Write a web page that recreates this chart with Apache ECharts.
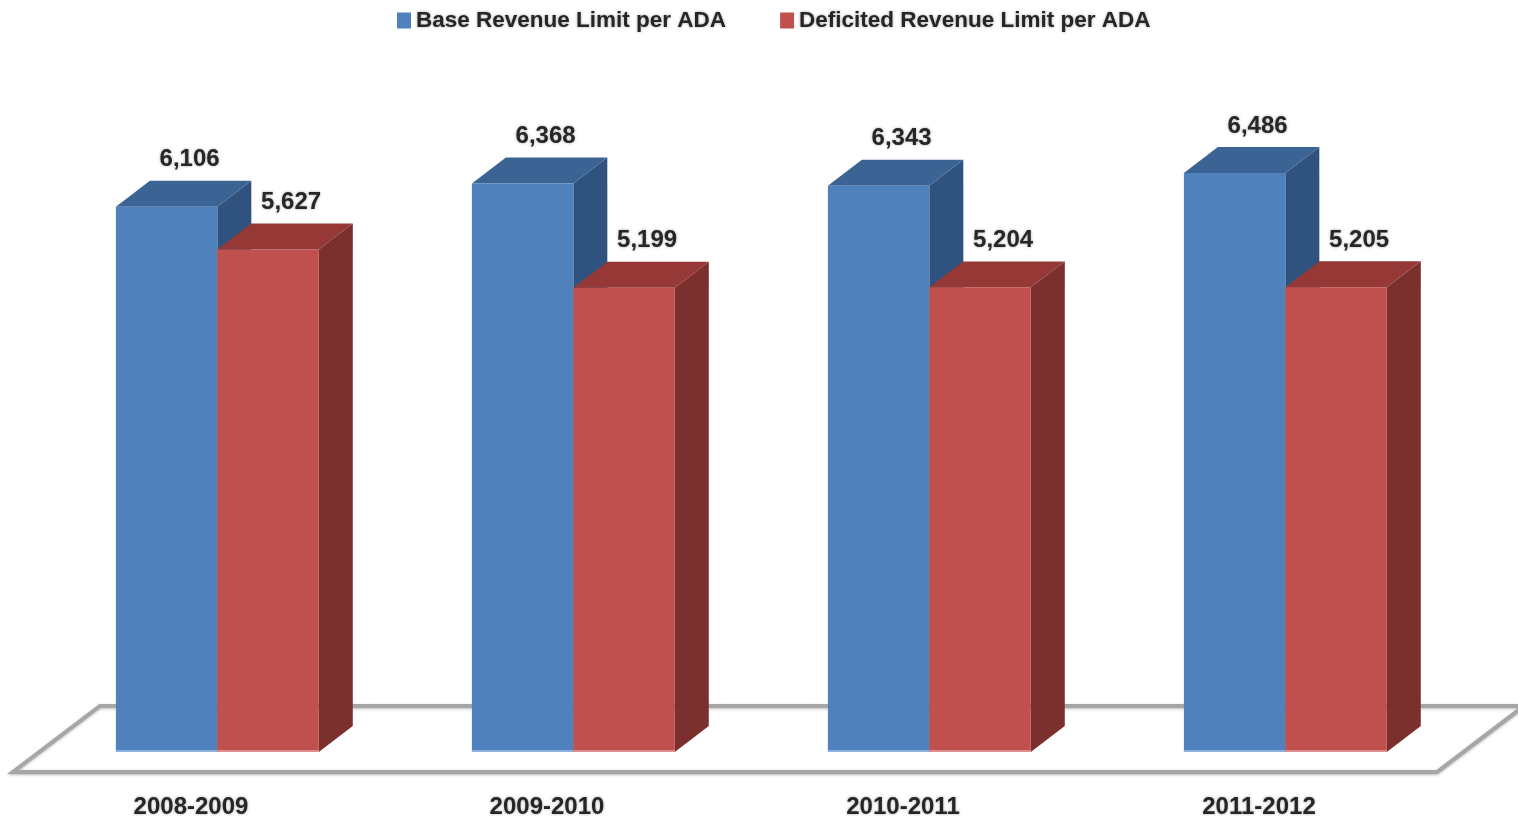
<!DOCTYPE html>
<html>
<head>
<meta charset="utf-8">
<script src="https://cdn.jsdelivr.net/npm/echarts@6/dist/echarts.min.js"></script>
<style>
  html, body { margin: 0; padding: 0; background: #ffffff; }
  #chart { width: 1518px; height: 821px; }
</style>
</head>
<body>
<div id="chart"></div>
<script>
// Revenue limit per ADA by school year
const categories = ['2008-2009', '2009-2010', '2010-2011', '2011-2012'];
const baseRevenue = [6106, 6368, 6343, 6486];
const deficitedRevenue = [5627, 5199, 5204, 5205];
const seriesNames = ['Base Revenue Limit per ADA', 'Deficited Revenue Limit per ADA'];

// face colours for the extruded columns: front, top, side, bottom rim
const palettes = [
  { front: '#4F81BD', top: '#3B6494', side: '#30527F', rim: '#8FB1DD' },
  { front: '#C0504D', top: '#953836', side: '#7C302E', rim: '#DC8F8D' }
];

const TEXT_FONT = '"Liberation Sans", Arial, sans-serif';
const TEXT_COLOR = '#262626';

function fmt(v) {
  return v.toLocaleString('en-US');
}

// Draws one extruded column (front, top and side faces) plus its value label.
function columnRenderer(slot) {
  const pal = palettes[slot];
  return function (params, api) {
    const c = api.value(0);
    const v = api.value(1);
    const base = api.coord([c, 0]);
    const top = api.coord([c, v]);
    const band = api.size([1, 0])[0];
    const w = band * 0.285;
    const x0 = base[0] - band * 0.211 + slot * w;
    const x1 = x0 + w;
    const dx = w * 0.335;
    const dy = -w * 0.256;
    const yb = base[1];
    const yt = top[1];
    return {
      type: 'group',
      children: [
        {
          type: 'polygon',
          shape: { points: [[x1, yt], [x1 + dx, yt + dy], [x1 + dx, yb + dy], [x1, yb]] },
          style: { fill: pal.side }
        },
        {
          type: 'polygon',
          shape: { points: [[x0, yt], [x0 + dx, yt + dy], [x1 + dx, yt + dy], [x1, yt]] },
          style: { fill: pal.top }
        },
        {
          type: 'rect',
          shape: { x: x0, y: yt, width: w, height: yb - yt },
          style: { fill: pal.front }
        },
        {
          type: 'line',
          shape: { x1: x0, y1: yb - 1, x2: x1, y2: yb - 1 },
          style: { stroke: pal.rim, lineWidth: 2 }
        },
        {
          type: 'text',
          style: {
            text: fmt(v),
            x: x0 + (w + dx) / 2 + 6,
            y: yt + dy - 21,
            align: 'center',
            verticalAlign: 'middle',
            fill: TEXT_COLOR,
            font: 'bold 24px ' + TEXT_FONT,
            textShadowColor: 'rgba(0,0,0,0.35)',
            textShadowBlur: 3
          }
        }
      ]
    };
  };
}

// The floor slab the columns stand on, spanning the plot width.
function floorRenderer(params, api) {
  const cs = params.coordSys;
  const yb = cs.y + cs.height;
  const front = yb + 20;
  const back = front - 66;
  const shift = 87;
  return {
    type: 'polygon',
    shape: {
      points: [
        [cs.x, front],
        [cs.x + cs.width, front],
        [cs.x + cs.width + shift, back],
        [cs.x + shift, back]
      ]
    },
    style: {
      fill: '#ffffff',
      stroke: '#A6A6A6',
      lineWidth: 4,
      lineJoin: 'miter',
      shadowColor: 'rgba(0,0,0,0.25)',
      shadowBlur: 3,
      shadowOffsetY: 1
    }
  };
}

const chart = echarts.init(document.getElementById('chart'), null, { renderer: 'canvas' });

chart.setOption({
  backgroundColor: '#ffffff',
  animation: false,
  legend: {
    data: seriesNames,
    left: 392,
    top: 4,
    icon: 'rect',
    itemWidth: 14,
    itemHeight: 16,
    itemGap: 54,
    textStyle: {
      fontFamily: TEXT_FONT,
      fontWeight: 'bold',
      fontSize: 22.5,
      color: TEXT_COLOR,
      textShadowColor: 'rgba(0,0,0,0.35)',
      textShadowBlur: 3
    }
  },
  grid: { left: 13, right: 81, top: 127, bottom: 69 },
  xAxis: {
    type: 'category',
    data: categories,
    axisLine: { show: false },
    axisTick: { show: false },
    splitLine: { show: false },
    axisLabel: {
      margin: 43,
      fontFamily: TEXT_FONT,
      fontWeight: 'bold',
      fontSize: 24,
      color: TEXT_COLOR,
      textShadowColor: 'rgba(0,0,0,0.35)',
      textShadowBlur: 3
    }
  },
  yAxis: {
    type: 'value',
    min: 0,
    max: 7000,
    show: false,
    splitLine: { show: false }
  },
  series: [
    {
      name: 'floor',
      type: 'custom',
      silent: true,
      z: 1,
      renderItem: floorRenderer,
      data: [[0, 0]]
    },
    {
      name: seriesNames[0],
      type: 'custom',
      z: 2,
      itemStyle: { color: palettes[0].front },
      renderItem: columnRenderer(0),
      encode: { x: 0, y: 1 },
      data: categories.map((_, i) => [i, baseRevenue[i]])
    },
    {
      name: seriesNames[1],
      type: 'custom',
      z: 2,
      itemStyle: { color: palettes[1].front },
      renderItem: columnRenderer(1),
      encode: { x: 0, y: 1 },
      data: categories.map((_, i) => [i, deficitedRevenue[i]])
    }
  ]
});
</script>
</body>
</html>
